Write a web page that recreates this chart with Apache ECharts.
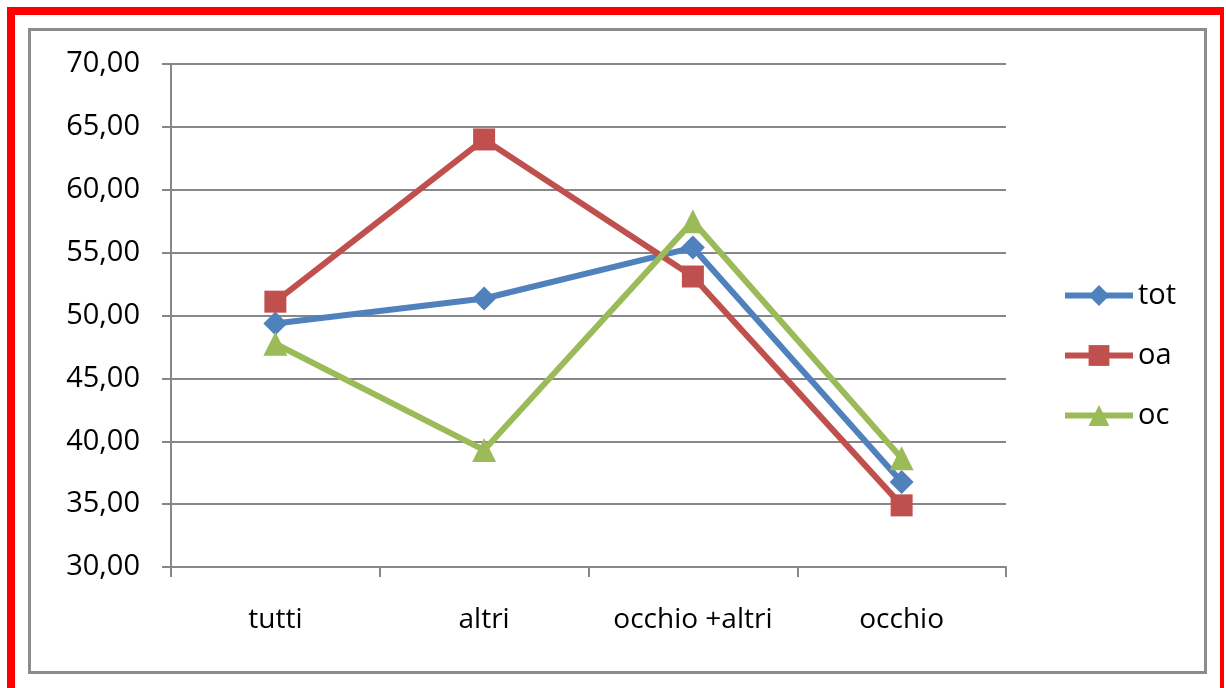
<!DOCTYPE html>
<html>
<head>
<meta charset="utf-8">
<script src="https://cdn.jsdelivr.net/npm/echarts@6/dist/echarts.min.js"></script>
<style>
  html, body { margin: 0; padding: 0; background: #fff; }
  #chart { width: 1226px; height: 688px; }
</style>
</head>
<body>
<div id="chart"></div>
<script>
// Categories and series values
const categories = ['tutti', 'altri', 'occhio +altri', 'occhio'];
const totValues = [49.36, 51.35, 55.4, 36.75];
const oaValues = [51.1, 64.0, 53.1, 34.9];
const ocValues = [47.75, 39.3, 57.5, 38.65];
const yTicks = { min: 30, max: 70, step: 5 };

const FONT = 'Open Sans';
const GRAY = '#878787';

const chart = echarts.init(document.getElementById('chart'), null, { renderer: 'canvas' });

function lineSeries(name, data, color, symbol, size) {
  return {
    name: name,
    type: 'line',
    data: data,
    symbol: symbol,
    symbolSize: size,
    lineStyle: { color: color, width: 6 },
    itemStyle: { color: color },
    emphasis: { disabled: true },
    animation: false,
    z: 3
  };
}

chart.setOption({
  backgroundColor: '#fff',
  animation: false,
  graphic: [
    // outer red frame
    { type: 'rect', shape: { x: 7, y: 7, width: 8, height: 700 }, style: { fill: '#ff0000' } },
    { type: 'rect', shape: { x: 7, y: 7, width: 1217, height: 8 }, style: { fill: '#ff0000' } },
    { type: 'rect', shape: { x: 1220, y: 7, width: 4, height: 700 }, style: { fill: '#ff0000' } },
    // inner chart-area frame
    { type: 'rect', shape: { x: 29.5, y: 29.5, width: 1176, height: 643 },
      style: { fill: 'none', stroke: '#8c8c8c', lineWidth: 3 } }
  ],
  grid: { left: 171, top: 64, right: 220, bottom: 121 },
  legend: {
    orient: 'vertical',
    left: 1057,
    top: 276,
    itemWidth: 68,
    itemHeight: 26,
    itemGap: 31,
    lineStyle: { width: 6 },
    textStyle: { fontFamily: FONT, fontSize: 29, color: '#000', padding: [0, 0, 0, 0] },
    data: ['tot', 'oa', 'oc']
  },
  xAxis: {
    type: 'category',
    data: categories,
    boundaryGap: true,
    axisLine: { lineStyle: { color: GRAY, width: 2 } },
    axisTick: { show: true, length: 10, lineStyle: { color: GRAY, width: 2 } },
    axisLabel: { fontFamily: FONT, fontSize: 28, color: '#000', margin: 39 },
    splitLine: { show: false }
  },
  yAxis: {
    type: 'value',
    min: yTicks.min,
    max: yTicks.max,
    interval: yTicks.step,
    axisLine: { show: true, lineStyle: { color: GRAY, width: 2 } },
    axisTick: { show: true, length: 9, lineStyle: { color: GRAY, width: 2 } },
    axisLabel: {
      fontFamily: FONT, fontSize: 29, color: '#000', margin: 31,
      formatter: v => v.toFixed(2).replace('.', ',')
    },
    splitLine: { show: true, lineStyle: { color: GRAY, width: 2 } }
  },
  series: [
    lineSeries('tot', totValues, '#4F81BD', 'diamond', 24),
    lineSeries('oa', oaValues, '#C0504D', 'rect', 22),
    lineSeries('oc', ocValues, '#9BBB59', 'triangle', 24)
  ]
});
</script>
</body>
</html>
